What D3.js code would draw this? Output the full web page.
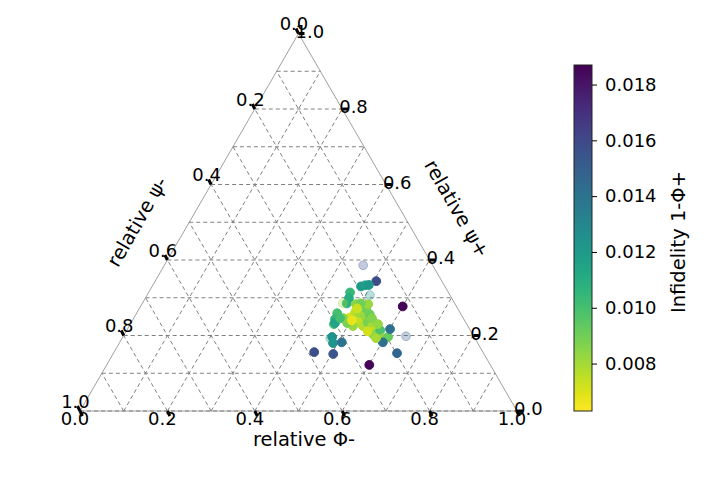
<!DOCTYPE html>
<html>
<head>
<meta charset="utf-8">
<script src="https://cdn.jsdelivr.net/npm/d3@7"></script>
<style>
  body { margin: 0; background: #fff; }
  svg text { font-family: "DejaVu Sans", sans-serif; fill: #000; }
</style>
</head>
<body>
<svg id="chart" width="704" height="502"></svg>
<script>
// ---- data ----
const phiMinus = [0.455,0.506,0.478,0.486,0.494,0.510,0.600,0.461,0.466,0.468,0.459,0.459,0.462,0.466,
  0.494,0.499,0.490,0.514,0.527,0.519,0.535,0.541,0.535,0.520,0.556,0.568,0.579,0.569,0.553,0.580,
  0.512,0.495,0.479,0.518,0.500,0.597,0.607,0.601,0.602,0.649,0.647,0.601,0.479,0.489,0.508,0.458,
  0.504,0.467,0.472,0.476,0.502,0.498,0.581,0.545,0.567];
const psiPlus = [0.386,0.344,0.330,0.333,0.334,0.307,0.277,0.314,0.299,0.285,0.285,0.259,0.243,0.230,
  0.248,0.262,0.283,0.254,0.246,0.235,0.225,0.235,0.256,0.270,0.225,0.214,0.206,0.203,0.211,0.214,
  0.225,0.233,0.246,0.283,0.285,0.193,0.196,0.217,0.182,0.153,0.198,0.122,0.196,0.180,0.182,0.156,
  0.151,0.233,0.246,0.193,0.240,0.272,0.193,0.246,0.230];
const infidelity = [0.0155,0.0158,0.0120,0.0118,0.0121,0.0125,0.0186,0.0104,0.0110,0.0108,0.0080,0.0100,0.0106,0.0098,
  0.0071,0.0076,0.0085,0.0080,0.0082,0.0074,0.0078,0.0088,0.0092,0.0090,0.0080,0.0075,0.0078,0.0085,0.0072,0.0098,
  0.0082,0.0088,0.0086,0.0082,0.0090,0.0084,0.0092,0.0141,0.0141,0.0146,0.0150,0.0186,0.0125,0.0123,0.0140,0.0157,
  0.0155,0.0115,0.0100,0.0120,0.0067,0.0073,0.0079,0.0086,0.0083];
const faded = [1,0,0,0,0,1,0,0,0,0,1,0,0,0,
  0,0,0,0,0,0,0,0,0,0,0,0,0,0,0,0,
  0,0,0,0,0,0,0,0,0,0,1,0,0,0,0,0,
  0,0,0,1,0,0,0,0,0];
const ternaryTicks = [0, 0.2, 0.4, 0.6, 0.8, 1.0];
const ternaryTickLabels = ["0.0","0.2","0.4","0.6","0.8","1.0"];
const colorTicks = [0.008, 0.010, 0.012, 0.014, 0.016, 0.018];
const colorDomain = [0.0063, 0.0187];

// ---- layout ----
const svg = d3.select("#chart");
const X0 = 80, X1 = 517, YB = 411, YT = 33.5;
const aScale = d3.scaleLinear().domain([0, 1]).range([0, X1 - X0]);
const bScale = d3.scaleLinear().domain([0, 1]).range([YB, YT]);
function proj(a, b) { return [X0 + aScale(a + b / 2), bScale(b)]; }

const color = v => d3.interpolateViridis(1 - (v - colorDomain[0]) / (colorDomain[1] - colorDomain[0]));

// triangle border
const tri = [proj(0,0), proj(1,0), proj(0,1)];
svg.append("path").attr("d", d3.line()(tri) + "Z")
  .attr("fill", "none").attr("stroke", "#a0a0a0").attr("stroke-width", 1);

// gridlines
const g = svg.append("g").attr("stroke", "#808080").attr("stroke-width", 1)
  .attr("stroke-dasharray", "4,3").attr("fill", "none");
const steps = d3.range(0, 10).map(i => i / 10);
steps.forEach(t => {
  let p = proj(0, t), q = proj(1 - t, t);
  g.append("line").attr("x1", p[0]).attr("y1", p[1]).attr("x2", q[0]).attr("y2", q[1]);
  if (t > 0) {
    p = proj(t, 0); q = proj(t, 1 - t);
    g.append("line").attr("x1", p[0]).attr("y1", p[1]).attr("x2", q[0]).attr("y2", q[1]);
    p = proj(1 - t, 0); q = proj(0, 1 - t);
    g.append("line").attr("x1", p[0]).attr("y1", p[1]).attr("x2", q[0]).attr("y2", q[1]);
  }
});

// ticks
const tk = svg.append("g").attr("stroke", "#000").attr("stroke-width", 3);
const labels = svg.append("g").style("font-size", "18px");
ternaryTicks.forEach((t, i) => {
  let p = proj(t, 0);
  tk.append("line").attr("x1", p[0]).attr("y1", p[1]).attr("x2", p[0] + 2.5).attr("y2", p[1] + 5);
  labels.append("text").attr("x", p[0] - 5).attr("y", p[1] + 14).attr("text-anchor", "middle").text(ternaryTickLabels[i]);
  p = proj(1 - t, t);
  tk.append("line").attr("x1", p[0]).attr("y1", p[1]).attr("x2", p[0] + 6).attr("y2", p[1]);
  labels.append("text").attr("x", p[0] - 3).attr("y", p[1] + 4).attr("text-anchor", "start").text(ternaryTickLabels[i]);
  p = proj(0, 1 - t);
  tk.append("line").attr("x1", p[0]).attr("y1", p[1]).attr("x2", p[0] - 2.5).attr("y2", p[1] - 5);
  labels.append("text").attr("x", p[0] - 4.5).attr("y", p[1] - 3.5).attr("text-anchor", "middle").text(ternaryTickLabels[i]);
});

// axis titles
svg.append("text").attr("x", 304).attr("y", 446).attr("text-anchor", "middle")
  .style("font-size", "19.5px").text("relative Φ-");
svg.append("text").attr("transform", "translate(143,225) rotate(-60)").attr("text-anchor", "middle")
  .style("font-size", "19.5px").text("relative ψ-");
svg.append("text").attr("transform", "translate(451,212) rotate(60)").attr("text-anchor", "middle")
  .style("font-size", "19.5px").text("relative ψ+");

// points
svg.append("g").selectAll("circle").data(phiMinus.map((a, i) => i)).join("circle")
  .attr("cx", i => proj(phiMinus[i], psiPlus[i])[0])
  .attr("cy", i => proj(phiMinus[i], psiPlus[i])[1])
  .attr("r", 4.4)
  .attr("fill", i => color(infidelity[i]))
  .attr("fill-opacity", i => faded[i] ? 0.3 : 1)
  .attr("stroke", i => color(infidelity[i]))
  .attr("stroke-opacity", i => faded[i] ? 0.35 : 1)
  .attr("stroke-width", 1);

// colorbar
const cbX = 574, cbW = 18, cbTop = 65, cbBot = 411;
const cScale = d3.scaleLinear().domain(colorDomain).range([cbBot, cbTop]);
const defs = svg.append("defs");
const grad = defs.append("linearGradient").attr("id", "cbgrad")
  .attr("x1", 0).attr("y1", 1).attr("x2", 0).attr("y2", 0);
d3.range(0, 1.0001, 0.05).forEach(s => {
  grad.append("stop").attr("offset", s).attr("stop-color", d3.interpolateViridis(1 - s));
});
svg.append("rect").attr("x", cbX).attr("y", cbTop).attr("width", cbW).attr("height", cbBot - cbTop)
  .attr("fill", "url(#cbgrad)").attr("stroke", "#222").attr("stroke-width", 1);
const cbAxis = d3.axisRight(cScale).tickValues(colorTicks).tickFormat(d3.format(".3f")).tickSize(5).tickPadding(8);
const cbg = svg.append("g").attr("transform", `translate(${cbX + cbW},0)`).call(cbAxis);
cbg.select(".domain").remove();
cbg.selectAll("text").style("font-size", "18px").style("font-family", "DejaVu Sans, sans-serif");
cbg.selectAll("line").attr("stroke", "#000").attr("stroke-width", 1);
svg.append("text").attr("transform", "translate(685,242) rotate(-90)").attr("text-anchor", "middle")
  .style("font-size", "19.5px").text("Infidelity 1-Φ+");
</script>
</body>
</html>
